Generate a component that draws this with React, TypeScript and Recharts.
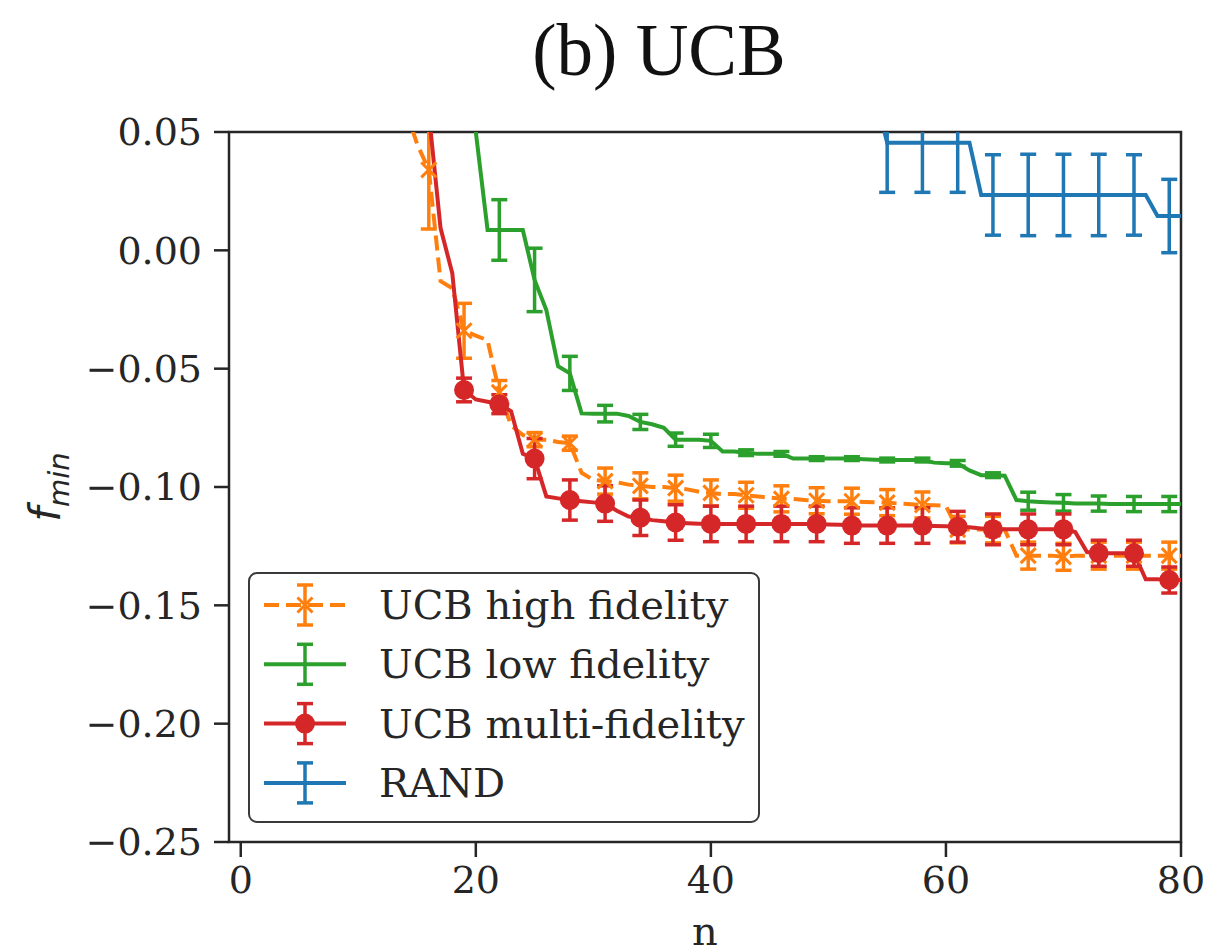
import React from "react";
import { LineChart, Line, XAxis, YAxis, ErrorBar, ReferenceArea } from "recharts";

// evaluation index n
const N = [
  14, 15, 16, 17, 18, 19, 20, 21, 22, 23, 24, 25, 26, 27, 28, 29, 30, 31, 32, 33, 34, 35, 36, 37, 38, 39,
  40, 41, 42, 43, 44, 45, 46, 47, 48, 49, 50, 51, 52, 53, 54, 55, 56, 57, 58, 59, 60, 61, 62, 63, 64, 65,
  66, 67, 68, 69, 70, 71, 72, 73, 74, 75, 76, 77, 78, 79, 80,
];

// UCB high fidelity, from n = 14
const HF_START = 14;
const highFid = [
  0.06, 0.045, 0.034, -0.013, -0.016, -0.034, -0.036, -0.038, -0.06, -0.074, -0.078, -0.08, -0.08, -0.081,
  -0.0815, -0.094, -0.097, -0.0975, -0.098, -0.099, -0.0995, -0.1, -0.1, -0.1005, -0.101, -0.102, -0.1025,
  -0.103, -0.103, -0.1035, -0.104, -0.1045, -0.105, -0.105, -0.1055, -0.1058, -0.106, -0.106, -0.106,
  -0.1063, -0.1065, -0.1066, -0.107, -0.1073, -0.1076, -0.1077, -0.108, -0.118, -0.118, -0.118, -0.118,
  -0.118, -0.129, -0.129, -0.129, -0.129, -0.1295, -0.129, -0.129, -0.129, -0.129, -0.129, -0.129, -0.129,
  -0.129, -0.129, -0.129,
];

// UCB low fidelity, from n = 19
const LF_START = 19;
const lowFid = [
  0.12, 0.05, 0.0086, 0.0086, 0.0086, 0.0086, -0.0125, -0.0252, -0.049, -0.052, -0.0689, -0.069, -0.069,
  -0.069, -0.07, -0.0725, -0.0735, -0.075, -0.08, -0.08, -0.08, -0.0805, -0.085, -0.085, -0.0855, -0.086,
  -0.086, -0.086, -0.088, -0.088, -0.088, -0.088, -0.088, -0.088, -0.0883, -0.0885, -0.0886, -0.0886,
  -0.0886, -0.0886, -0.0897, -0.09, -0.09, -0.093, -0.095, -0.095, -0.0952, -0.1055, -0.106, -0.1063,
  -0.1065, -0.1067, -0.107, -0.107, -0.107, -0.1072, -0.1072, -0.1072, -0.1072, -0.1072, -0.1072, -0.1072,
];

// UCB multi-fidelity, from n = 15
const MF_START = 15;
const multiFid = [
  0.1, 0.058, 0.0094, -0.0097, -0.059, -0.063, -0.064, -0.065, -0.068, -0.086, -0.088, -0.104, -0.1048,
  -0.1055, -0.106, -0.1065, -0.107, -0.11, -0.1125, -0.113, -0.114, -0.1145, -0.115, -0.1153, -0.1155,
  -0.1156, -0.1156, -0.1156, -0.1156, -0.1156, -0.1156, -0.1156, -0.1156, -0.1156, -0.1156, -0.1158,
  -0.116, -0.1163, -0.1163, -0.1163, -0.1163, -0.1163, -0.1163, -0.1163, -0.1165, -0.1166, -0.1168,
  -0.117, -0.1175, -0.1179, -0.1179, -0.1179, -0.1179, -0.1179, -0.1179, -0.1179, -0.119, -0.1275,
  -0.128, -0.128, -0.128, -0.128, -0.139, -0.139, -0.1393, -0.1393,
];

// RAND, from n = 54
const RAND_START = 54;
const rand = [
  0.065, 0.0455, 0.0455, 0.0455, 0.0455, 0.0455, 0.0455, 0.0455, 0.0455, 0.0234, 0.0234, 0.0234, 0.0234,
  0.0234, 0.0234, 0.0234, 0.0234, 0.0234, 0.0234, 0.0234, 0.0234, 0.0234, 0.0234, 0.0234, 0.0145, 0.0145,
  0.0145,
];

// error bars every third evaluation
const ERR_N = [16, 19, 22, 25, 28, 31, 34, 37, 40, 43, 46, 49, 52, 55, 58, 61, 64, 67, 70, 73, 76, 79];
const highFidErr = [
  0.025, 0.0116, 0.005, 0.003, 0.003, 0.0055, 0.0055, 0.0055, 0.0055, 0.0055, 0.0055, 0.0055, 0.0055,
  0.0055, 0.0055, 0.0056, 0.0056, 0.0057, 0.0057, 0.0057, 0.0057, 0.0057,
];
const lowFidErr = [
  null, null, 0.0128, 0.0134, 0.0072, 0.0035, 0.0032, 0.0028, 0.0028, 0.0012, 0.001, 0.0008, 0.0008,
  0.0008, 0.0008, 0.0012, 0.001, 0.0038, 0.0035, 0.0032, 0.0032, 0.0032,
];
const multiFidErr = [
  null, 0.005, 0.004, 0.0085, 0.0085, 0.0075, 0.0075, 0.0075, 0.0075, 0.0075, 0.0075, 0.0075, 0.0075,
  0.0075, 0.0075, 0.0065, 0.0065, 0.0065, 0.0065, 0.0055, 0.0055, 0.0055,
];
const randErr = [
  null, null, null, null, null, null, null, null, null, null, null, null, null,
  0.021, 0.021, 0.021, 0.017, 0.0172, 0.0172, 0.0172, 0.017, 0.0155,
];

const Y_TICKS = [-0.25, -0.2, -0.15, -0.1, -0.05, 0, 0.05];
const X_TICKS = [0, 20, 40, 60, 80];

const ORANGE = "#ff7f0e";
const GREEN = "#2ca02c";
const RED = "#d62728";
const BLUE = "#1f77b4";
const INK = "#262626";
const LW = 4;
const EW = 3.5;

const pick = (arr: number[], start: number, n: number) => {
  const i = n - start;
  return i >= 0 && i < arr.length ? arr[i] : null;
};
const pickErr = (arr: (number | null)[], n: number) => {
  const i = ERR_N.indexOf(n);
  return i >= 0 ? arr[i] : null;
};

const data = N.map((n) => ({
  n,
  hf: pick(highFid, HF_START, n),
  lf: pick(lowFid, LF_START, n),
  mf: pick(multiFid, MF_START, n),
  rand: pick(rand, RAND_START, n),
  hfErr: pickErr(highFidErr, n),
  lfErr: pickErr(lowFidErr, n),
  mfErr: pickErr(multiFidErr, n),
  randErr: pickErr(randErr, n),
}));

const fmtY = (v: number) => {
  const s = Math.abs(v).toFixed(2);
  return v < -1e-9 ? "\u2212" + s : s;
};

const redDot = (p: any) => {
  const { cx, cy, payload, index } = p;
  if (payload.mfErr == null || cy == null) return <g key={`mf-${index}`} />;
  return <circle key={`mf-${index}`} cx={cx} cy={cy} r={10} fill={RED} />;
};

const crossDot = (p: any) => {
  const { cx, cy, payload, index } = p;
  if (payload.hfErr == null || cy == null) return <g key={`hf-${index}`} />;
  const s = 7.5;
  return (
    <g key={`hf-${index}`} stroke={ORANGE} strokeWidth={3}>
      <line x1={cx - s} y1={cy - s} x2={cx + s} y2={cy + s} />
      <line x1={cx - s} y1={cy + s} x2={cx + s} y2={cy - s} />
    </g>
  );
};

const YLabel = (props: any) => {
  const vb = props.viewBox || { x: 0, y: 132, width: 229, height: 710 };
  const x = vb.x + 60;
  const y = vb.y + vb.height / 2;
  return (
    <text
      x={x}
      y={y}
      transform={`rotate(-90, ${x}, ${y})`}
      textAnchor="middle"
      fontFamily="DejaVu Sans"
      fontStyle="italic"
      fontSize={42}
      fill={INK}
    >
      <tspan>f</tspan>
      <tspan fontSize={29} dy={9}>
        min
      </tspan>
    </text>
  );
};

const legendRows = [
  { label: "UCB high fidelity", color: ORANGE, dashed: true, mark: "x" },
  { label: "UCB low fidelity", color: GREEN, dashed: false, mark: "" },
  { label: "UCB multi-fidelity", color: RED, dashed: false, mark: "o" },
  { label: "RAND", color: BLUE, dashed: false, mark: "" },
];

function LegendBox() {
  return (
    <g>
      <rect x={249} y={573} width={510} height={249} rx={8} fill="#fff" fillOpacity={0.8} stroke="#3a3a3a" strokeWidth={2} />
      {legendRows.map((r, i) => {
        const cy = 605 + i * 59.3;
        return (
          <g key={r.label}>
            <line x1={264} x2={346} y1={cy} y2={cy} stroke={r.color} strokeWidth={LW} strokeDasharray={r.dashed ? "15 7" : undefined} />
            <g stroke={r.color} strokeWidth={EW}>
              <line x1={305} x2={305} y1={cy - 20} y2={cy + 20} />
              <line x1={297} x2={313} y1={cy - 20} y2={cy - 20} />
              <line x1={297} x2={313} y1={cy + 20} y2={cy + 20} />
            </g>
            {r.mark === "o" && <circle cx={305} cy={cy} r={10} fill={r.color} />}
            {r.mark === "x" && (
              <g stroke={r.color} strokeWidth={3}>
                <line x1={297.5} y1={cy - 7.5} x2={312.5} y2={cy + 7.5} />
                <line x1={297.5} y1={cy + 7.5} x2={312.5} y2={cy - 7.5} />
              </g>
            )}
            <text x={379} y={cy + 14} fontFamily="DejaVu Serif" fontSize={40} fill={INK}>
              {r.label}
            </text>
          </g>
        );
      })}
    </g>
  );
}

export default function App() {
  const tickStyle = { fontFamily: "DejaVu Serif", fontSize: 38, fill: INK };
  return (
    <div style={{ position: "absolute", left: 0, top: 0, width: 1209, height: 951, background: "#fff" }}>
      <style>{`.recharts-errorBars { clip-path: url(#plotClip); }`}</style>
      <svg width={0} height={0} style={{ position: "absolute" }}>
        <defs>
          <clipPath id="plotClip" clipPathUnits="userSpaceOnUse">
            <rect x={229} y={132} width={952} height={710} />
          </clipPath>
        </defs>
      </svg>
      <LineChart width={1209} height={951} data={data} margin={{ top: 132, right: 28, bottom: 0, left: 0 }}>
        <XAxis
          dataKey="n"
          type="number"
          domain={[-1, 80]}
          ticks={X_TICKS}
          allowDataOverflow
          height={109}
          axisLine={false}
          tickSize={15}
          tickMargin={9}
          tickLine={{ stroke: INK, strokeWidth: 2.5 }}
          tick={tickStyle}
          label={{ value: "n", position: "insideBottom", offset: 6, fontFamily: "DejaVu Serif", fontSize: 40, fill: INK }}
        />
        <YAxis
          type="number"
          domain={[-0.25, 0.05]}
          ticks={Y_TICKS}
          allowDataOverflow
          width={229}
          axisLine={false}
          tickSize={15}
          tickMargin={12}
          tickLine={{ stroke: INK, strokeWidth: 2.5 }}
          tick={tickStyle}
          tickFormatter={fmtY}
          label={<YLabel />}
        />
        <ReferenceArea x1={-1} x2={80} y1={-0.25} y2={0.05} fill="none" stroke={INK} strokeWidth={2.5} />
        <Line
          dataKey="hf"
          type="linear"
          stroke={ORANGE}
          strokeWidth={LW}
          strokeDasharray="15 7"
          dot={crossDot}
          activeDot={false}
          isAnimationActive={false}
        >
          <ErrorBar dataKey="hfErr" width={8} stroke={ORANGE} strokeWidth={EW} />
        </Line>
        <Line dataKey="lf" type="linear" stroke={GREEN} strokeWidth={LW} dot={false} activeDot={false} isAnimationActive={false}>
          <ErrorBar dataKey="lfErr" width={8} stroke={GREEN} strokeWidth={EW} />
        </Line>
        <Line dataKey="mf" type="linear" stroke={RED} strokeWidth={LW} dot={redDot} activeDot={false} isAnimationActive={false}>
          <ErrorBar dataKey="mfErr" width={8} stroke={RED} strokeWidth={EW} />
        </Line>
        <Line dataKey="rand" type="linear" stroke={BLUE} strokeWidth={LW} dot={false} activeDot={false} isAnimationActive={false}>
          <ErrorBar dataKey="randErr" width={8} stroke={BLUE} strokeWidth={EW} />
        </Line>
      </LineChart>
      <svg width={1209} height={951} style={{ position: "absolute", left: 0, top: 0, pointerEvents: "none" }}>
        <text x={659} y={75} textAnchor="middle" fontFamily="Liberation Serif" fontSize={73} fill="#111">
          (b) UCB
        </text>
        <LegendBox />
      </svg>
    </div>
  );
}
